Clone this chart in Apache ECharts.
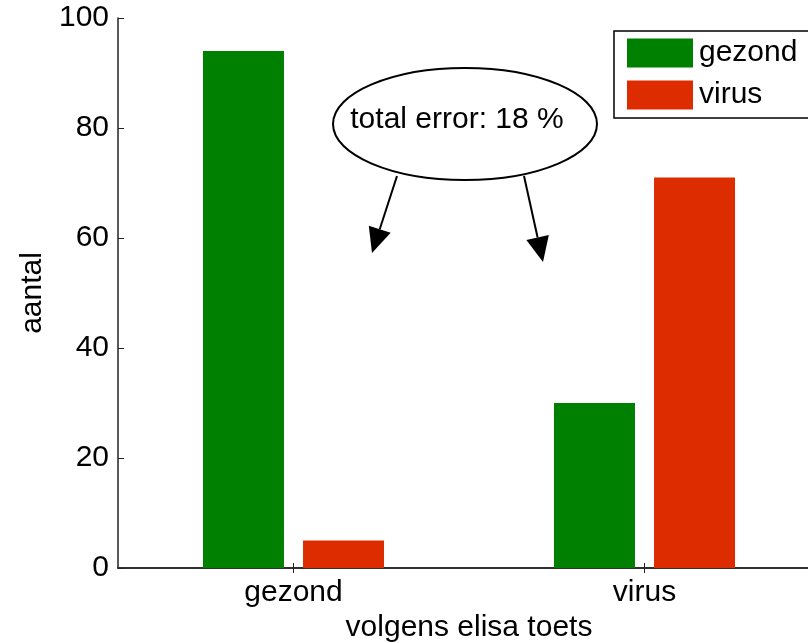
<!DOCTYPE html>
<html>
<head>
<meta charset="utf-8">
<script src="https://cdn.jsdelivr.net/npm/echarts@6/dist/echarts.min.js"></script>
<style>
html,body{margin:0;padding:0;background:#fff;}
#chart{width:808px;height:643px;}
</style>
</head>
<body>
<div id="chart"></div>
<script>
const categories = ['gezond', 'virus'];
const seriesNames = ['gezond', 'virus'];
const gezondValues = [94, 30];
const virusValues = [5, 71];
const yTicks = [0, 20, 40, 60, 80, 100];
const annotationText = 'total error: 18 %';
const xAxisTitle = 'volgens elisa toets';
const yAxisTitle = 'aantal';

const FONT = 'Liberation Sans, Arial, sans-serif';
const AX = '#222';

function arrow(x0, y0, x1, y1) {
  const dx = x1 - x0, dy = y1 - y0;
  const L = Math.sqrt(dx * dx + dy * dy);
  const ux = dx / L, uy = dy / L;
  const hl = 25, hw = 11.5;
  const bx = x1 - ux * hl, by = y1 - uy * hl;
  const px = -uy * hw, py = ux * hw;
  return [
    { type: 'line', shape: { x1: x0, y1: y0, x2: bx, y2: by }, style: { stroke: '#000', lineWidth: 2 }, z: 100 },
    { type: 'polygon', shape: { points: [[x1, y1], [bx + px, by + py], [bx - px, by - py]] }, style: { fill: '#000' }, z: 100 }
  ];
}

const chart = echarts.init(document.getElementById('chart'));
const axisBase = {
  axisLine: { show: true, lineStyle: { color: AX, width: 1.5 } },
  splitLine: { show: false }
};
chart.setOption({
  animation: false,
  backgroundColor: '#fff',
  textStyle: { fontFamily: FONT },
  grid: { left: 118, top: 18, width: 702, height: 550, containLabel: false, outerBoundsMode: 'none' },
  legend: {
    orient: 'vertical',
    left: 614, top: 31,
    itemWidth: 66, itemHeight: 29, itemGap: 12,
    padding: [7, 0, 8, 13],
    icon: 'rect',
    z: 110,
    data: seriesNames,
    textStyle: { fontSize: 30, color: '#000', fontFamily: FONT, lineHeight: 29, padding: [0, 0, 0, 1] }
  },
  xAxis: [
    Object.assign({}, axisBase, {
      type: 'category', data: categories, position: 'bottom',
      axisTick: { show: true, inside: true, alignWithLabel: true, length: 5, lineStyle: { color: AX, width: 1 } },
      axisLabel: { fontSize: 30, color: '#000', margin: 10, fontFamily: FONT },
      name: xAxisTitle, nameLocation: 'middle', nameGap: 42,
      nameTextStyle: { fontSize: 30, color: '#000', fontFamily: FONT }
    }),
    Object.assign({}, axisBase, {
      type: 'category', data: categories, position: 'top',
      axisTick: { show: true, inside: true, alignWithLabel: true, length: 5, lineStyle: { color: AX, width: 1 } },
      axisLabel: { show: false }
    })
  ],
  yAxis: [
    Object.assign({}, axisBase, {
      type: 'value', min: yTicks[0], max: yTicks[yTicks.length - 1], interval: yTicks[1] - yTicks[0],
      position: 'left',
      axisTick: { show: true, inside: true, length: 6, lineStyle: { color: AX, width: 1 } },
      axisLabel: { fontSize: 30, color: '#000', margin: 9, fontFamily: FONT },
      name: yAxisTitle, nameLocation: 'middle', nameGap: 68, nameRotate: 90,
      nameTextStyle: { fontSize: 30, color: '#000', fontFamily: FONT }
    }),
    Object.assign({}, axisBase, {
      type: 'value', min: yTicks[0], max: yTicks[yTicks.length - 1], interval: yTicks[1] - yTicks[0],
      position: 'right',
      axisTick: { show: true, inside: true, length: 6, lineStyle: { color: AX, width: 1 } },
      axisLabel: { show: false }
    })
  ],
  series: [
    { name: seriesNames[0], type: 'bar', data: gezondValues, barWidth: 81, barGap: '23.5%',
      itemStyle: { color: '#008000' } },
    { name: seriesNames[1], type: 'bar', data: virusValues, barWidth: 81, barGap: '23.5%',
      itemStyle: { color: '#dc2c00' } }
  ],
  graphic: [
    { type: 'rect', shape: { x: 614, y: 31, width: 220, height: 87 },
      style: { fill: '#fff', stroke: '#000', lineWidth: 1.5 }, z: 100 },
    { type: 'ellipse', shape: { cx: 465, cy: 124, rx: 132, ry: 56 },
      style: { fill: '#fff', stroke: '#000', lineWidth: 2 }, z: 100 },
    { type: 'text', x: 457, y: 120, z: 101,
      style: { text: annotationText, fontSize: 30, fill: '#000', fontFamily: FONT, align: 'center', verticalAlign: 'middle' } }
  ].concat(arrow(397, 176, 372, 253)).concat(arrow(524, 176, 543, 262))
});
</script>
</body>
</html>
